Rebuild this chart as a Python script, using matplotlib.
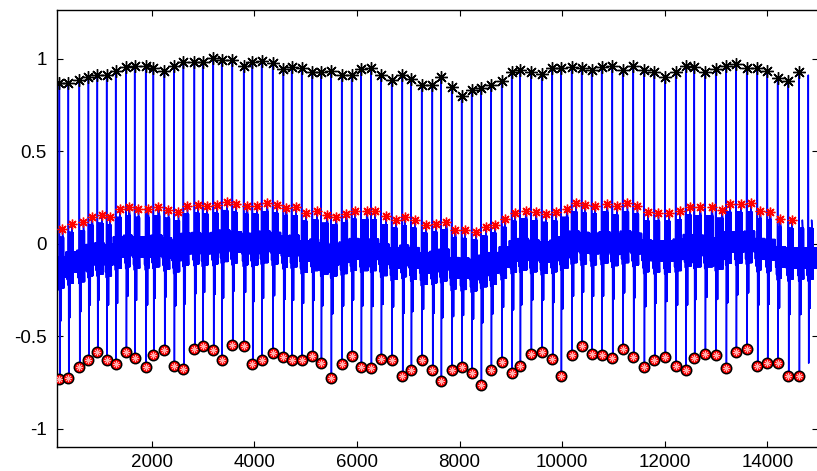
import matplotlib
matplotlib.use("Agg")
import matplotlib.pyplot as plt

plt.rcParams['font.family'] = ['Liberation Sans', 'DejaVu Sans']
plt.rcParams['axes.unicode_minus'] = False

# R peaks (black stars) and S troughs (red circles), one per beat; last beat has no markers
beat_x = [200, 375, 589, 766, 940, 1122, 1298, 1499, 1668, 1883, 2032, 2246, 2434,
          2617, 2831, 2994, 3200, 3364, 3571, 3793, 3961, 4143, 4358, 4566, 4728,
          4923, 5130, 5300, 5494, 5703, 5897, 6079, 6274, 6469, 6677, 6884, 7054,
          7262, 7469, 7638, 7847, 8041, 8236, 8418, 8613, 8821, 9016, 9178, 9392,
          9601, 9807, 9977, 10185, 10380, 10575, 10770, 10977, 11180, 11386, 11595,
          11796, 12004, 12213, 12408, 12575, 12784, 12993, 13193, 13388, 13597,
          13803, 13998, 14200, 14407, 14616, 14797]
r_peak = [0.871, 0.871, 0.886, 0.900, 0.911, 0.915, 0.935, 0.955, 0.962, 0.962,
          0.953, 0.936, 0.964, 0.982, 0.982, 0.984, 1.007, 0.995, 0.995, 0.964,
          0.984, 0.989, 0.977, 0.946, 0.958, 0.949, 0.928, 0.928, 0.936, 0.913,
          0.913, 0.946, 0.953, 0.913, 0.886, 0.913, 0.891, 0.862, 0.862, 0.904,
          0.846, 0.800, 0.832, 0.841, 0.859, 0.882, 0.931, 0.940, 0.928, 0.918,
          0.949, 0.949, 0.958, 0.949, 0.940, 0.955, 0.964, 0.940, 0.964, 0.940,
          0.931, 0.904, 0.931, 0.964, 0.955, 0.931, 0.946, 0.962, 0.971, 0.953,
          0.953, 0.936, 0.895, 0.882, 0.928, 0.913]
s_trough = [-0.730, -0.723, -0.667, -0.627, -0.582, -0.627, -0.650, -0.582, -0.618,
            -0.667, -0.603, -0.576, -0.658, -0.676, -0.569, -0.551, -0.576, -0.630,
            -0.545, -0.551, -0.650, -0.627, -0.591, -0.612, -0.627, -0.630, -0.607,
            -0.645, -0.723, -0.650, -0.605, -0.667, -0.672, -0.623, -0.630, -0.712,
            -0.681, -0.630, -0.681, -0.739, -0.681, -0.667, -0.699, -0.762, -0.681,
            -0.639, -0.699, -0.658, -0.596, -0.587, -0.623, -0.712, -0.603, -0.554,
            -0.594, -0.600, -0.618, -0.567, -0.609, -0.667, -0.630, -0.609, -0.658,
            -0.681, -0.618, -0.594, -0.603, -0.672, -0.587, -0.567, -0.658, -0.645,
            -0.645, -0.712, -0.712, -0.645]
n_marked = 75

# T waves (red stars)
t_x = [260, 440, 668, 830, 1025, 1187, 1382, 1557, 1740, 1922, 2130, 2325, 2519,
       2694, 2896, 3071, 3266, 3461, 3637, 3851, 4046, 4241, 4436, 4617, 4812,
       5007, 5215, 5410, 5586, 5790, 5962, 6190, 6352, 6566, 6761, 6937, 7132,
       7346, 7535, 7736, 7911, 8106, 8314, 8509, 8691, 8886, 9081, 9289, 9484,
       9679, 9874, 10088, 10263, 10445, 10640, 10868, 11062, 11269, 11464, 11667,
       11874, 12082, 12297, 12491, 12686, 12914, 13109, 13271, 13479, 13674,
       13855, 14050, 14245, 14473]
t_peak = [0.080, 0.107, 0.116, 0.147, 0.156, 0.147, 0.188, 0.197, 0.188, 0.188,
          0.197, 0.183, 0.170, 0.207, 0.212, 0.207, 0.212, 0.225, 0.216, 0.207,
          0.207, 0.219, 0.212, 0.194, 0.197, 0.167, 0.176, 0.156, 0.147, 0.160,
          0.179, 0.176, 0.176, 0.149, 0.130, 0.143, 0.130, 0.103, 0.110, 0.121,
          0.076, 0.074, 0.067, 0.089, 0.103, 0.134, 0.167, 0.179, 0.170, 0.161,
          0.170, 0.188, 0.219, 0.212, 0.207, 0.216, 0.203, 0.219, 0.207, 0.170,
          0.167, 0.167, 0.176, 0.201, 0.197, 0.197, 0.183, 0.216, 0.216, 0.219,
          0.179, 0.174, 0.134, 0.129]

x_end = 14990

# build the trace beat by beat from the values above
xs, ys = [], []
for i in range(len(beat_x)):
    bx, r, s = beat_x[i], r_peak[i], s_trough[i]
    t = t_peak[min(i, len(t_peak) - 1)]
    tx = t_x[i] if i < len(t_x) else bx + 65
    b = t - 0.18
    deep = b + 0.5 * (s - b)
    nxt = beat_x[i + 1] if i + 1 < len(beat_x) else x_end + 60

    if i == 0:
        for j, off in enumerate(range(140, bx - 45, 4)):
            xs.append(off)
            ys.append(b + 0.03 if j % 2 else b - 0.08)

    for off, v in [(-45, b + 0.03), (-38, b - 0.08), (-30, b + 0.03), (-22, b - 0.12),
                   (-14, b + 0.02), (-6, b - 0.15), (0, r), (8, s), (12, b - 0.1)]:
        xs.append(bx + off)
        ys.append(v)

    # dense block up to the T wave and down below baseline
    j = 0
    for x in range(bx + 15, tx + 26, 3):
        xs.append(x)
        if j % 2 == 0:
            ys.append(t if abs(x - tx) < 2 else b + 0.75 * (t - b))
        else:
            ys.append(deep if x < bx + 40 else b - 0.14)
        j += 1
    xs.append(tx)
    ys.append(t)

    # baseline band to the next beat
    for j, x in enumerate(range(tx + 30, nxt - 48, 4)):
        xs.append(x)
        ys.append(b + 0.03 if j % 2 else b - 0.08)

fig = plt.figure(figsize=(8.17, 4.71), dpi=100)
ax = fig.add_axes([56.7 / 817, 23.7 / 471, (818.2 - 56.7) / 817, (447.3 - 10) / 471])

ax.plot(xs, ys, color='#0000ff', lw=1.1, zorder=2)

mx, mr, ms_ = beat_x[:n_marked], r_peak[:n_marked], s_trough[:n_marked]
ax.plot(mx, mr, ls='none', marker=(8, 2, 0), ms=9, mec='k', mew=1.0, zorder=4)
ax.plot(t_x, t_peak, ls='none', marker=(8, 2, 0), ms=7, mec='#ff0000', mew=1.0, zorder=4)
ax.plot(mx, ms_, ls='none', marker='o', ms=7.5, mfc='#ff0000', mec='k', mew=1.1, zorder=5)
ax.plot(mx, ms_, ls='none', marker=(8, 2, 0), ms=5, mec='#ffb0b0', mew=0.6, zorder=6)

ax.set_xlim(148, x_end)
ax.set_ylim(-1.1, 1.265)
ax.set_xticks(range(2000, 14001, 2000))
ax.set_yticks([-1, -0.5, 0, 0.5, 1])
ax.set_yticklabels(['-1', '-0.5', '0', '0.5', '1'])
ax.tick_params(direction='in', top=True, right=True, length=4.5, width=0.8,
               labelsize=13.5, colors='k')
ax.tick_params(axis='y', pad=7)
ax.tick_params(axis='x', pad=5)
for sp in ax.spines.values():
    sp.set_linewidth(1.0)

fig.savefig('out.png', dpi=100)
